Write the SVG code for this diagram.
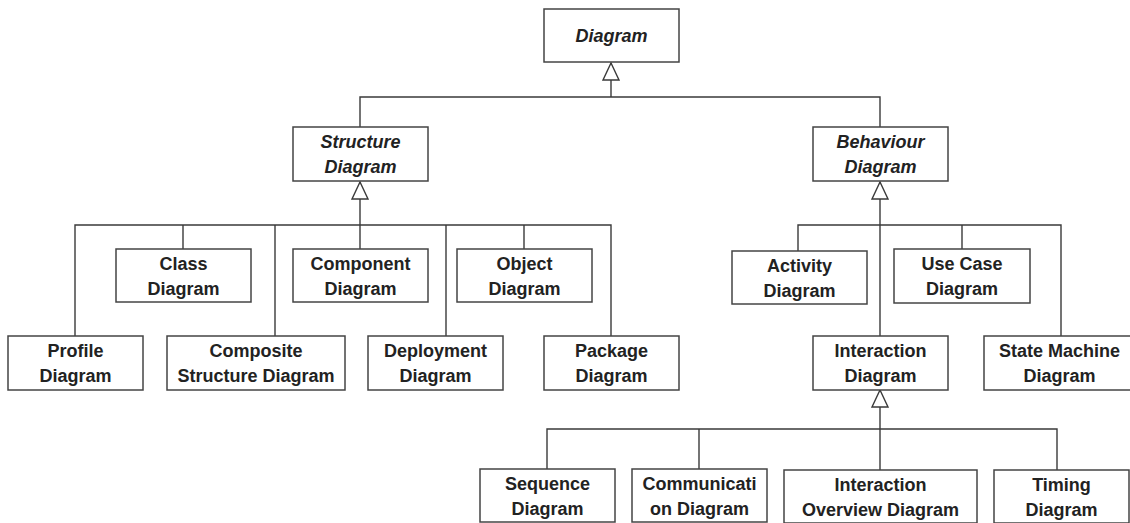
<svg xmlns="http://www.w3.org/2000/svg" width="1130" height="523" viewBox="0 0 1130 523">
<style>
.box{fill:#fff;stroke:#444;stroke-width:1.5}
.t{font-family:"Liberation Sans",Arial,sans-serif;font-weight:bold;font-size:18px;fill:#222;text-anchor:middle}
.i{font-style:italic}
.c{fill:none;stroke:#3a3a3a;stroke-width:1.4}
</style>
<defs>
<marker id="gen" viewBox="-1 -1 19 18" refX="17" refY="8" markerWidth="19" markerHeight="18" orient="auto" markerUnits="userSpaceOnUse">
<path d="M0,0 L17,8 L0,16 Z" fill="#fff" stroke="#3a3a3a" stroke-width="1.4"/>
</marker>
</defs>
<rect width="1130" height="523" fill="#fff"/>
<g id="connectors">
<path class="c" d="M360,127 V97 H880 V127"/>
<path class="c" d="M611,97 V63" marker-end="url(#gen)"/>
<path class="c" d="M75,336 V225 H611 V336"/>
<path class="c" d="M183,225 V249"/>
<path class="c" d="M275,225 V336"/>
<path class="c" d="M446,225 V336"/>
<path class="c" d="M524,225 V249"/>
<path class="c" d="M360,249 V182" marker-end="url(#gen)"/>
<path class="c" d="M798,251 V225 H1061 V336"/>
<path class="c" d="M962,225 V249"/>
<path class="c" d="M880,336 V182" marker-end="url(#gen)"/>
<path class="c" d="M547,469 V429 H1057 V470"/>
<path class="c" d="M699,429 V469"/>
<path class="c" d="M880,470 V390" marker-end="url(#gen)"/>
</g>
<g id="diagram"><rect class="box" x="544" y="9" width="135" height="53"/><text class="t i" x="611.5" y="42">Diagram</text></g>
<g id="structure"><rect class="box" x="293" y="127" width="135" height="54"/><text class="t i" x="360.5" y="148">Structure</text><text class="t i" x="360.5" y="173">Diagram</text></g>
<g id="behaviour"><rect class="box" x="813" y="127" width="135" height="54"/><text class="t i" x="880.5" y="148">Behaviour</text><text class="t i" x="880.5" y="173">Diagram</text></g>
<g id="class"><rect class="box" x="116" y="249" width="135" height="53"/><text class="t" x="183.5" y="270">Class</text><text class="t" x="183.5" y="295">Diagram</text></g>
<g id="component"><rect class="box" x="293" y="249" width="135" height="53"/><text class="t" x="360.5" y="270">Component</text><text class="t" x="360.5" y="295">Diagram</text></g>
<g id="object"><rect class="box" x="457" y="249" width="135" height="53"/><text class="t" x="524.5" y="270">Object</text><text class="t" x="524.5" y="295">Diagram</text></g>
<g id="profile"><rect class="box" x="8" y="336" width="135" height="54"/><text class="t" x="75.5" y="357">Profile</text><text class="t" x="75.5" y="382">Diagram</text></g>
<g id="composite"><rect class="box" x="167" y="336" width="178" height="54"/><text class="t" x="256" y="357">Composite</text><text class="t" x="256" y="382">Structure Diagram</text></g>
<g id="deployment"><rect class="box" x="368" y="336" width="135" height="54"/><text class="t" x="435.5" y="357">Deployment</text><text class="t" x="435.5" y="382">Diagram</text></g>
<g id="package"><rect class="box" x="544" y="336" width="135" height="54"/><text class="t" x="611.5" y="357">Package</text><text class="t" x="611.5" y="382">Diagram</text></g>
<g id="activity"><rect class="box" x="732" y="251" width="135" height="53"/><text class="t" x="799.5" y="272">Activity</text><text class="t" x="799.5" y="297">Diagram</text></g>
<g id="usecase"><rect class="box" x="894" y="249" width="136" height="54"/><text class="t" x="962" y="270">Use Case</text><text class="t" x="962" y="295">Diagram</text></g>
<g id="interaction"><rect class="box" x="813" y="336" width="135" height="54"/><text class="t" x="880.5" y="357">Interaction</text><text class="t" x="880.5" y="382">Diagram</text></g>
<g id="statemachine"><rect class="box" x="984" y="336" width="151" height="54"/><text class="t" x="1059.5" y="357">State Machine</text><text class="t" x="1059.5" y="382">Diagram</text></g>
<g id="sequence"><rect class="box" x="480" y="469" width="135" height="53"/><text class="t" x="547.5" y="490">Sequence</text><text class="t" x="547.5" y="515">Diagram</text></g>
<g id="communication"><rect class="box" x="632" y="469" width="135" height="53"/><text class="t" x="699.5" y="490">Communicati</text><text class="t" x="699.5" y="515">on Diagram</text></g>
<g id="overview"><rect class="box" x="784" y="470" width="193" height="53"/><text class="t" x="880.5" y="491">Interaction</text><text class="t" x="880.5" y="516">Overview Diagram</text></g>
<g id="timing"><rect class="box" x="994" y="470" width="135" height="53"/><text class="t" x="1061.5" y="491">Timing</text><text class="t" x="1061.5" y="516">Diagram</text></g>
</svg>
